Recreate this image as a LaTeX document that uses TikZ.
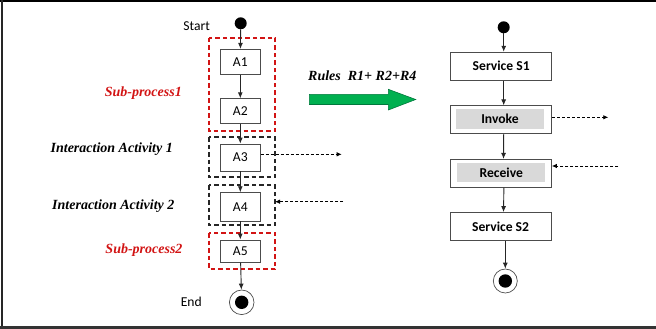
\documentclass[tikz,border=0pt]{standalone}
\usepackage{fontspec}
\setmainfont{Liberation Serif}
\newfontfamily\calfont{Carlito}
\usetikzlibrary{arrows.meta}
\definecolor{subred}{RGB}{210,20,20}
\definecolor{boxgray}{RGB}{217,217,217}
\definecolor{arrgreen}{RGB}{0,176,80}
\definecolor{arrgreenedge}{RGB}{0,120,60}
\tikzset{
  act/.style={draw=black!70, line width=0.8pt, minimum width=40pt, inner sep=0pt, font=\calfont\fontsize{13.6}{16}\selectfont},
  svc/.style={draw=black!70, line width=0.8pt, minimum width=101pt, minimum height=28pt, inner sep=0pt, font=\calfont\bfseries\fontsize{13.6}{16}\selectfont},
  graybox/.style={fill=boxgray, inner sep=0pt, font=\calfont\bfseries\fontsize{13.6}{16}\selectfont},
  redgrp/.style={draw=subred, line width=2pt, dash pattern=on 4.5pt off 3pt},
  blkgrp/.style={draw=black!85, line width=2pt, dash pattern=on 4.5pt off 3pt},
  flow/.style={draw=black!85, line width=0.9pt, -{Latex[length=6pt,width=5pt]}},
  msg/.style={draw=black, line width=0.8pt, dash pattern=on 3pt off 2pt, -{Latex[length=5pt,width=4.5pt]}},
  grplabel/.style={font=\bfseries\itshape\fontsize{14}{16}\selectfont},
  plain/.style={font=\calfont\fontsize{13.6}{16}\selectfont},
  startdot/.style={circle, fill=black, minimum size=12pt, inner sep=0pt},
  endring/.style={circle, draw=black!70, line width=0.7pt, minimum size=24.6pt, inner sep=0pt},
  enddot/.style={circle, fill=black, minimum size=13.4pt, inner sep=0pt},
}
\begin{document}
\begin{tikzpicture}[x=1pt,y=-1pt]
\useasboundingbox (0,0) rectangle (656,329);
% frame
\draw[line width=1.5pt] (0,1) -- (656,1);
\draw[line width=2.5pt,black!85] (2,0) -- (2,329);
\draw[line width=2.5pt,black!80] (0,327.5) -- (656,327.5);

% group boxes
\draw[redgrp] (209,38) rectangle (275,131);
\draw[blkgrp] (209,137) rectangle (275,177);
\draw[blkgrp] (209,185) rectangle (275,225);
\draw[redgrp] (209,233) rectangle (275,269);
\coordinate (g3e) at (275,205);

% left activities
\node[startdot] (st) at (240.7,23.3) {};
\node[plain] (stl) at (196.7,26) {Start};
\node[act, minimum height=25pt] (a1) at (240.3,61.8) {A1};
\node[act, minimum height=24.6pt] (a2) at (240.3,111) {A2};
\node[act, minimum height=27pt] (a3) at (240.3,157.5) {A3};
\node[act, minimum height=28.3pt] (a4) at (240.3,206.8) {A4};
\node[act, minimum height=22.3pt] (a5) at (240.3,251.1) {A5};
\node[endring] (en) at (241.7,302.3) {};
\node[enddot] at (en.center) {};
\node[plain] (enl) at (191.3,301.7) {End};

\draw[flow] (st) -- (a1);
\draw[flow] (a1) -- (a2);
\draw[flow] (a2) -- (a3);
\draw[flow] (a3) -- (a4);
\draw[flow] (a4) -- (a5);
\draw[flow] (a5) -- (en);

% group labels
\node[grplabel, text=subred] (l1) at (143.3,93.3) {Sub-process1};
\node[grplabel] (l2) at (111.7,149) {Interaction Activity 1};
\node[grplabel] (l3) at (113.3,205.7) {Interaction Activity 2};
\node[grplabel, text=subred] (l4) at (144,250) {Sub-process2};

% message arrows left
\coordinate (m1) at (341.7,154.3);
\coordinate (m2) at (343,201.7);
\draw[msg] (a3.east |- m1) -- (m1);
\draw[msg] (m2) -- (g3e |- m2);

% rules arrow
\node[grplabel] (rl) at (362.3,76) {Rules\ \ R1+ R2+R4};
\draw[fill=arrgreen, draw=arrgreenedge, line width=0.6pt]
  (309.3,94.3) -- (388.3,94.3) -- (388.3,89.3) -- (415.7,99.5) -- (388.3,110) -- (388.3,104.5) -- (309.3,104.5) -- cycle;

% right process
\node[startdot] (rst) at (503.7,27.3) {};
\node[svc] (s1) at (501.2,66.2) {Service S1};
\node[svc] (inv) at (501.2,119.8) {};
\node[graybox, minimum width=88.6pt, minimum height=19.4pt] (invg) at (500,119) {Invoke};
\node[svc] (rec) at (501,173.3) {};
\node[graybox, minimum width=88pt, minimum height=19pt] (recg) at (501.3,172.8) {Receive};
\node[svc] (s2) at (500.6,226.5) {Service S2};
\node[endring, minimum size=24pt] (ren) at (505.3,281) {};
\node[enddot] at (ren.center) {};

\draw[flow] (rst) -- ([xshift=2.5pt]s1.north);
\draw[flow] ([xshift=2.5pt]s1.south) -- ([xshift=2.5pt]inv.north);
\draw[flow] ([xshift=2.5pt]inv.south) -- ([xshift=2.5pt]rec.north);
\draw[flow] ([xshift=2.9pt]rec.south) -- ([xshift=2.9pt]s2.north);
\draw[flow] ([xshift=4.7pt]s2.south) -- (ren);

\coordinate (m3) at (608.3,117.3);
\coordinate (m4) at (618.3,166);
\draw[msg] (inv.east |- m3) -- (m3);
\draw[msg] (m4) -- (rec.east |- m4);
\end{tikzpicture}
\end{document}
